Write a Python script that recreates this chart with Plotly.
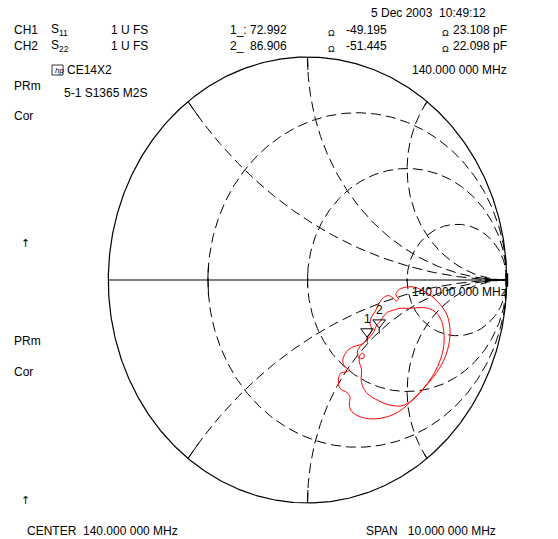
import numpy as np
import plotly.graph_objects as go

# ---------------- data ----------------
# Smith chart graticule values
r_circles = [1/3, 1.0, 3.0]
x_arcs = [0.5, 1.0, 2.0]
Z0 = 50.0

# marker readouts (ohm)
marker_names = ["1", "2"]
marker_R = [72.992, 86.906]
marker_X = [-49.195, -51.445]

# trace 1 (outer loop) reflection coefficient
t1_re = [0.322, 0.305, 0.289, 0.264, 0.230, 0.197, 0.177, 0.188, 0.213, 0.197, 0.166, 0.155, 0.163,
         0.197, 0.213, 0.210, 0.222, 0.264, 0.322, 0.397, 0.464, 0.531, 0.598, 0.649, 0.690, 0.712,
         0.715, 0.699, 0.665, 0.623, 0.573, 0.531, 0.489, 0.456, 0.444, 0.456, 0.444, 0.428, 0.406,
         0.381, 0.364, 0.351, 0.339, 0.322, 0.314, 0.322]
t1_im = [-0.224, -0.254, -0.277, -0.291, -0.299, -0.321, -0.359, -0.389, -0.404, -0.411, -0.419, -0.448, -0.486,
         -0.504, -0.523, -0.561, -0.590, -0.613, -0.623, -0.614, -0.587, -0.534, -0.471, -0.414, -0.348, -0.277,
         -0.217, -0.154, -0.109, -0.072, -0.045, -0.031, -0.033, -0.045, -0.067, -0.085, -0.094, -0.079, -0.070,
         -0.079, -0.097, -0.120, -0.142, -0.164, -0.194, -0.224]

# trace 2 (inner loop)
t2_re = [0.347, 0.334, 0.314, 0.289, 0.264, 0.250, 0.260, 0.284, 0.280, 0.264, 0.260, 0.272, 0.269,
         0.277, 0.305, 0.356, 0.414, 0.473, 0.531, 0.590, 0.638, 0.668, 0.684, 0.685, 0.674, 0.649,
         0.607, 0.556, 0.506, 0.464, 0.431, 0.401, 0.381, 0.364, 0.347]
t2_im = [-0.202, -0.232, -0.254, -0.277, -0.299, -0.324, -0.351, -0.348, -0.329, -0.336, -0.366, -0.404, -0.441,
         -0.478, -0.513, -0.541, -0.561, -0.564, -0.536, -0.478, -0.415, -0.355, -0.295, -0.239, -0.187, -0.149,
         -0.127, -0.124, -0.127, -0.127, -0.135, -0.145, -0.164, -0.187, -0.202]

# ---------------- figure ----------------
W, H = 558, 539
CX, CY, RX, RY = 307.5, 280.0, 199.2, 223.0  # chart placement in pixels

fig = go.Figure()
DASH = "10px,5px"


def add_line(xs, ys, dash=None, width=1, color="black"):
    fig.add_trace(go.Scatter(x=list(xs), y=list(ys), mode="lines",
                             line=dict(color=color, width=width, dash=dash),
                             hoverinfo="skip", showlegend=False))


def gam(z):
    return (z - 1) / (z + 1)


# constant resistance circles
for r in r_circles:
    c, rad = r / (1 + r), 1 / (1 + r)
    th = np.linspace(0, 2 * np.pi, 400)
    add_line(c + rad * np.cos(th), rad * np.sin(th), dash=DASH)
    xx = np.linspace(-0.06, 0.06, 20)
    g = gam(r + 1j * xx)
    add_line(g.real, g.imag, width=1)

# constant reactance arcs
rr = np.concatenate([np.linspace(0, 1, 200), np.logspace(0, 3, 200)])
for xv in x_arcs:
    for s in (1, -1):
        g = gam(rr + 1j * s * xv)
        add_line(g.real, g.imag, dash=DASH)
        g2 = gam(np.linspace(0, 0.06, 10) + 1j * s * xv)
        add_line(g2.real, g2.imag, width=1)

# outer circle and real axis
th = np.linspace(0, 2 * np.pi, 600)
add_line(np.cos(th), np.sin(th), width=1.2)
add_line([-1, 1], [0, 0], width=1.2)
add_line([1, 1], [-0.03, 0.03], width=3)
fig.add_trace(go.Scatter(x=[0.9], y=[0], mode="markers",
                         marker=dict(symbol="triangle-right", size=7, color="black"),
                         hoverinfo="skip", showlegend=False))

# traces
RED = "#ff0000"
fig.add_trace(go.Scatter(x=t1_re, y=t1_im, mode="lines", line=dict(color=RED, width=1, shape="spline"),
                         hoverinfo="skip", showlegend=False))
fig.add_trace(go.Scatter(x=t2_re, y=t2_im, mode="lines", line=dict(color=RED, width=1, shape="spline"),
                         hoverinfo="skip", showlegend=False))

# markers from impedance readouts (triangle drawn above the point with a short stem)
FONT = "Liberation Sans, Arial, sans-serif"
for name, R, X in zip(marker_names, marker_R, marker_X):
    g = gam(complex(R, X) / Z0)
    add_line([g.real, g.real], [g.imag, g.imag + 6 / RY], width=1)
    fig.add_trace(go.Scatter(x=[g.real], y=[g.imag + 11 / RY], mode="markers",
                             marker=dict(symbol="triangle-down-open", size=11, color="black",
                                         line=dict(width=1, color="black")),
                             hoverinfo="skip", showlegend=False))
    fig.add_annotation(x=g.real, y=g.imag, xref="x", yref="y", text=name, showarrow=False,
                       yanchor="middle", xanchor="center", xshift=0, yshift=24,
                       font=dict(family=FONT, size=12, color="black"))


def txt(x, y, s, size=12, anchor="left", family=FONT):
    fig.add_annotation(x=x / W, y=1 - y / H, xref="paper", yref="paper", text=s, showarrow=False,
                       xanchor=anchor, yanchor="middle", font=dict(family=family, size=size, color="black"))


txt(369, 13, "5 Dec 2003  10:49:12")
txt(12, 30, "CH1")
txt(49, 30, "S<sub>11</sub>")
txt(109, 30, "1 U FS")
txt(12, 46, "CH2")
txt(49, 46, "S<sub>22</sub>")
txt(109, 46, "1 U FS")
txt(228, 30, "1_: 72.992")
txt(228, 46, "2_  86.906")
txt(326, 33, "Ω", size=9)
txt(326, 49, "Ω", size=9)
txt(344, 30, "-49.195")
txt(344, 46, "-51.445")
txt(440, 33, "Ω", size=9)
txt(440, 49, "Ω", size=9)
txt(451, 30, "23.108 pF")
txt(451, 46, "22.098 pF")
txt(53, 70, "<i>hp</i>", size=8)
txt(65, 70, "CE14X2")
txt(410, 70, "140.000 000 MHz")
txt(12, 86, "PRm")
txt(62, 93, "5-1 S1365 M2S")
txt(12, 116, "Cor")
txt(19, 243, "↑", size=11, family="DejaVu Sans")
txt(12, 341, "PRm")
txt(12, 372, "Cor")
txt(19, 500, "↑", size=11, family="DejaVu Sans")
txt(410, 292, "140.000 000 MHz")
txt(25, 531, "CENTER  140.000 000 MHz")
txt(364, 531, "SPAN   10.000 000 MHz")

# hp logo box
fig.add_shape(type="rect", xref="paper", yref="paper", x0=52 / W, x1=63 / W, y0=1 - 75 / H, y1=1 - 65 / H,
              line=dict(color="black", width=0.8))

fig.update_layout(
    width=W, height=H, margin=dict(l=0, r=0, t=0, b=0),
    paper_bgcolor="white", plot_bgcolor="white", showlegend=False,
    xaxis=dict(range=[(0 - CX) / RX, (W - CX) / RX], visible=False, fixedrange=True),
    yaxis=dict(range=[(CY - H) / RY, CY / RY], visible=False, fixedrange=True),
)
fig.write_html("out.html", config={"displayModeBar": False},
               post_script="document.body.style.margin='0';document.body.style.padding='0';"
                           "document.body.style.overflow='hidden';")
